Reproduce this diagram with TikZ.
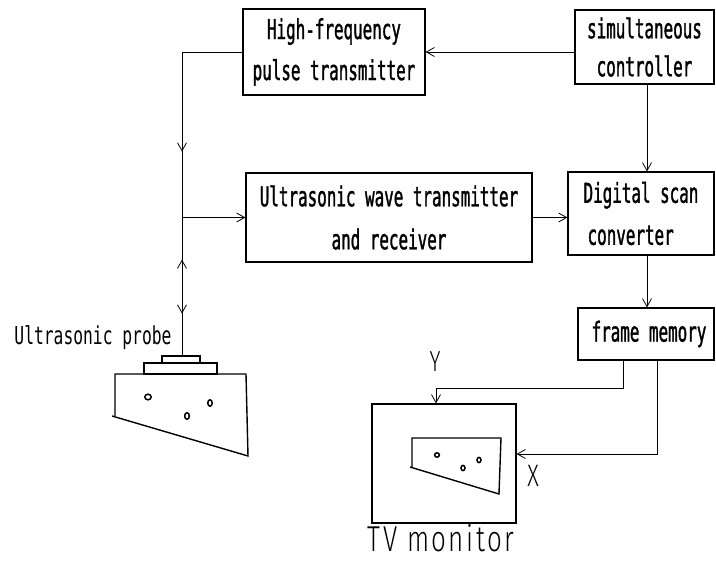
\documentclass[tikz,border=0pt]{standalone}
\usepackage{fontspec}
\setmainfont{DejaVu Sans Mono}[FakeStretch=0.58,FakeBold=1.2]
\newfontfamily\labfont{DejaVu Sans Mono}[FakeStretch=0.66]
\newfontfamily\thinfont{Fira Sans Light}[FakeStretch=0.72,LetterSpace=7]
\usetikzlibrary{arrows.meta,decorations.markings}
\begin{document}
\begin{tikzpicture}[x=1pt,y=-1pt,
  >={Straight Barb[length=8pt,width=9pt]},
  conn/.style={line width=0.8pt},
  box/.style={draw,line width=1.2pt,rectangle,inner sep=0pt,align=center,
    font=\fontsize{27.4}{41}\selectfont},
  lab/.style={inner sep=0pt,anchor=base,font=\labfont\fontsize{#1}{#1}\selectfont},
  thinlab/.style={inner sep=0pt,anchor=base,font=\thinfont\fontsize{#1}{#1}\selectfont},
  shape line/.style={line width=1.4pt},
  spot/.style={line width=1.5pt}]
\useasboundingbox (0,0) rectangle (716,561);

% blocks
\node[box,minimum width=182pt,minimum height=86pt] (hf) at (334,52)
  {High-frequency\\pulse transmitter};
\node[box,minimum width=139pt,minimum height=74pt,
  font=\fontsize{27.4}{38}\selectfont] (sc) at (644.5,47)
  {simultaneous\\controller};
\node[box,minimum width=286pt,minimum height=89pt,
  font=\fontsize{27.4}{43}\selectfont] (ut) at (389,217.5)
  {Ultrasonic wave transmitter\\and receiver};
\node[box,minimum width=146pt,minimum height=83pt,align=left,
  font=\fontsize{27.4}{42}\selectfont] (dsc) at (641,213.5)
  {Digital scan\\\hspace{4pt}converter};
\node[box,minimum width=136pt,minimum height=52pt] (fm) at (646,334)
  {\hspace{6pt}frame memory};
\node[draw,line width=1.2pt,rectangle,minimum width=144pt,minimum height=119pt]
  (tv) at (444,463.5) {};

% labels
\node[lab=24.7] (probelab) at (93,345) {Ultrasonic probe};
\node[thinlab=29] (ylab) at (435,372) {Y};
\node[thinlab=31] (xlab) at (533,487) {X};
\node[thinlab=36] (tvlab) at (441,552) {TV monitor};

% junction coordinates
\coordinate (ptop) at (182,356);
\coordinate (ah) at (0,52);
\coordinate (cx) at (647,0);
\coordinate (y1) at (623,388);
\coordinate (y2) at (436,388);
\coordinate (x1) at (657,454);

% connectors
\draw[conn,postaction={decorate},decoration={markings,
   mark=at position 160pt with {\arrow{>}},
   mark=at position 268pt with {\arrowreversed{>}},
   mark=at position 322pt with {\arrow{>}}}]
  (hf.west) -| (ptop);
\draw[conn,->] (ut.west -| ptop) -- (ut.west);
\draw[conn,->] (sc.west |- ah) -- (hf.east |- ah);
\draw[conn,->] (sc.south -| cx) -- (dsc.north -| cx);
\draw[conn,->] (ut.east) -- (dsc.west |- ut.east);
\draw[conn,->] (dsc.south -| cx) -- (fm.north -| cx);
\draw[conn,->] (fm.south -| y1) -- (y1) -- (y2) -- (tv.north -| y2);
\draw[conn,->] (fm.south -| x1) -- (x1) -- (tv.east |- x1);

% probe
\draw[line width=1.2pt] (162,356) rectangle (200,363);
\draw[line width=1.2pt] (144,363) rectangle (217,374);
\draw[shape line] (115,416) -- (115,374) -- (246,374) -- (248,456) -- (112,416);
\draw[spot] (148,397) ellipse [x radius=3.2pt,y radius=2.8pt];
\draw[spot] (187,416) ellipse [x radius=2.3pt,y radius=3.3pt];
\draw[spot] (210,403) ellipse [x radius=2.2pt,y radius=3.2pt];

% image on the monitor
\draw[shape line] (410,467) -- (499,494) -- (501,438) -- (412,438) -- (412,468);
\draw[spot] (437,455) ellipse [x radius=2.4pt,y radius=2.2pt];
\draw[spot] (463,468) ellipse [x radius=2pt,y radius=2.6pt];
\draw[spot] (479,460) ellipse [x radius=2pt,y radius=2.6pt];
\end{tikzpicture}
\end{document}
